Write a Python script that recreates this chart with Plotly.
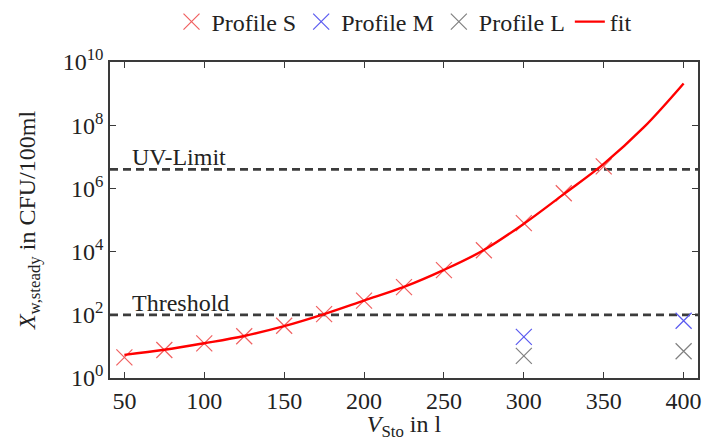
import math
import plotly.graph_objects as go

# Data
vol_s = [50, 75, 100, 125, 150, 175, 200, 225, 250, 275, 300, 325, 350]
prof_s = [4.5, 7.7, 12.5, 21, 45, 105, 280, 750, 2600, 11000, 80000, 7.0e5, 5.0e6]
vol_m = [300, 400]
prof_m = [20, 65]
vol_l = [300, 400]
prof_l = [5, 7]
vol_fit = [50, 75, 100, 125, 150, 175, 200, 225, 250, 275, 300, 325, 350, 375, 400]
fit_vals = [5.4, 7.8, 12.6, 21.4, 43.6, 105, 282, 760, 2630, 11200, 76000, 6.6e5, 6.0e6, 8.5e7, 2.1e9]
threshold = 100
uv_limit = 4.0e6
y_tick_vals = [1, 1e2, 1e4, 1e6, 1e8, 1e10]
y_tick_text = ["10<sup>0</sup>", "10<sup>2</sup>", "10<sup>4</sup>", "10<sup>6</sup>", "10<sup>8</sup>", "10<sup>10</sup>"]
x_tick_vals = [50, 100, 150, 200, 250, 300, 350, 400]

FONT = "Liberation Serif, Times New Roman, serif"
FS = 24
AX = "#3a3a3a"
TXT = "#222222"

fig = go.Figure()
fig.add_trace(go.Scatter(x=vol_s, y=prof_s, mode="markers", name="Profile S",
                         marker=dict(symbol="x-thin", size=16, line=dict(width=1.2, color="#f06060"))))
fig.add_trace(go.Scatter(x=vol_m, y=prof_m, mode="markers", name="Profile M",
                         marker=dict(symbol="x-thin", size=16, line=dict(width=1.2, color="#5a5af0"))))
fig.add_trace(go.Scatter(x=vol_l, y=prof_l, mode="markers", name="Profile L",
                         marker=dict(symbol="x-thin", size=16, line=dict(width=1.2, color="#808080"))))
fig.add_trace(go.Scatter(x=vol_fit, y=fit_vals, mode="lines", name="fit",
                         line=dict(color="#ff0000", width=2.4, shape="spline")))

for val, label in [(threshold, "Threshold"), (uv_limit, "UV-Limit")]:
    fig.add_shape(type="line", xref="paper", x0=0, x1=1, yref="y",
                  y0=val, y1=val,
                  line=dict(color="#3c3c3c", width=2.8, dash="8px,5px"), layer="below")
    fig.add_annotation(xref="paper", x=0.035, yref="y", y=math.log10(val), text=label,
                       showarrow=False, xanchor="left", yanchor="bottom", yshift=-2,
                       borderpad=0,
                       font=dict(family=FONT, size=FS, color=TXT))

fig.update_layout(
    width=714, height=441,
    margin=dict(l=110, r=16, t=62, b=63, autoexpand=False),
    paper_bgcolor="white", plot_bgcolor="white",
    font=dict(family=FONT, size=FS, color=TXT),
    showlegend=True,
    legend=dict(orientation="h", x=0.5, xanchor="center", y=0.95, yanchor="middle",
                yref="container", font=dict(family=FONT, size=FS), itemwidth=30,
                tracegroupgap=0, bgcolor="rgba(0,0,0,0)"),
    xaxis=dict(range=[41, 409], tickvals=x_tick_vals, ticks="inside", ticklen=6,
               tickcolor=AX, showline=True, linecolor=AX, linewidth=1.5, mirror="ticks",
               showgrid=False, zeroline=False, automargin=False,
               tickfont=dict(family=FONT, size=FS, color=TXT),
               title=dict(text="<i>V</i><sub>Sto</sub> in l", standoff=4,
                          font=dict(family=FONT, size=FS, color=TXT))),
    yaxis=dict(type="log", range=[0, 10], tickvals=y_tick_vals, ticktext=y_tick_text,
               ticks="inside", ticklen=6, tickcolor=AX, showline=True, linecolor=AX,
               linewidth=1.5, mirror="ticks", showgrid=False, zeroline=False, automargin=False,
               tickfont=dict(family=FONT, size=FS, color=TXT),
               title=dict(text="<i>X</i><sub>w,steady</sub> in CFU/100ml", standoff=20,
                          font=dict(family=FONT, size=FS, color=TXT))),
)

fig.write_html("out.html")
